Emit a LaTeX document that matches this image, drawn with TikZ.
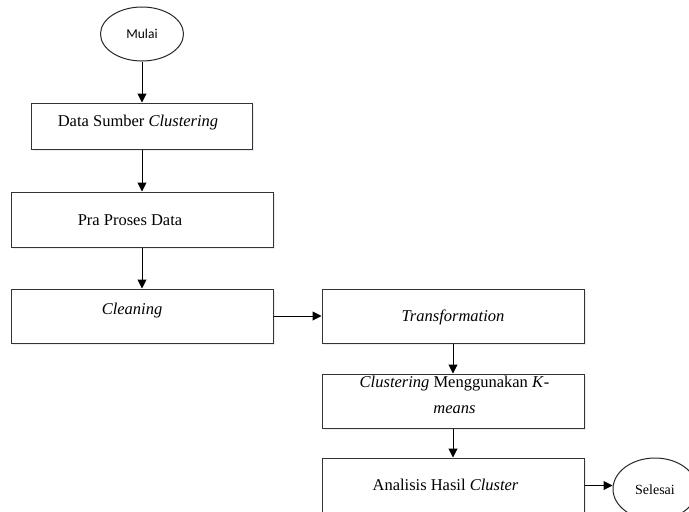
\documentclass[tikz,border=0pt]{standalone}
\usepackage{fontspec}
\setmainfont{Liberation Serif}
\newfontfamily\calibrifont{Carlito}
\usetikzlibrary{arrows.meta,shapes.geometric,shadows}
\tikzset{
  box/.style={draw=black!80, line width=1pt, fill=white, inner sep=0pt,
    drop shadow={opacity=0.25, fill=blue!20!gray!50, shadow xshift=1.5pt, shadow yshift=-1.5pt}},
  oval/.style={ellipse, draw=black!85, line width=1pt, fill=white, inner sep=0pt},
  txt/.style={inner sep=0pt, font=\fontsize{16.5}{26}\selectfont},
  flow/.style={draw=black, line width=1pt, -{Triangle[length=9pt,width=9pt]}}
}
\begin{document}
\begin{tikzpicture}[x=1pt,y=-1pt]
\useasboundingbox (0,0) rectangle (689,512);
% shapes
\node[oval, minimum width=83pt, minimum height=54pt] (mulai) at (142,34) {};
\node[inner sep=0pt, font=\calibrifont\fontsize{13.5}{16}\selectfont] (tmulai) at (142,34) {Mulai};
\node[box, minimum width=221pt, minimum height=46pt] (data) at (141.5,126) {};
\node[txt] (tdata) at (138,123) {Data Sumber \textit{Clustering}};
\node[box, minimum width=262pt, minimum height=55pt] (pra) at (142,219.5) {};
\node[txt] (tpra) at (130,220) {Pra Proses Data};
\node[box, minimum width=262pt, minimum height=54pt] (clean) at (142,316) {};
\node[txt] (tclean) at (132,311) {\textit{Cleaning}};
\node[box, minimum width=262pt, minimum height=54pt] (trans) at (453,316) {};
\node[txt] (ttrans) at (453,317) {\textit{Transformation}};
\node[box, minimum width=262pt, minimum height=54pt] (clus) at (453,401) {};
\node[txt, align=center] (tclus) at (454.5,395) {\textit{Clustering} Menggunakan \textit{K}-\\\textit{means}};
\node[box, minimum width=262pt, minimum height=55pt] (anal) at (453,485.5) {};
\node[txt] (tanal) at (445.5,485) {Analisis Hasil \textit{Cluster}};
\node[oval, minimum width=84pt, minimum height=62pt] (selesai) at (655,489) {};
\node[inner sep=0pt, font=\fontsize{14}{16}\selectfont] (tsel) at (655,490) {Selesai};
% connectors
\draw[flow] (mulai.south) -- (data.north -| mulai.south);
\draw[flow] (data.south -| mulai.south) -- (pra.north -| mulai.south);
\draw[flow] (pra.south -| mulai.south) -- (clean.north -| mulai.south);
\draw[flow] (clean.east) -- (trans.west);
\draw[flow] (trans.south) -- (clus.north);
\draw[flow] (clus.south) -- (anal.north);
\draw[flow] (anal.east) -- (anal.east -| selesai.west);
\end{tikzpicture}
\end{document}
